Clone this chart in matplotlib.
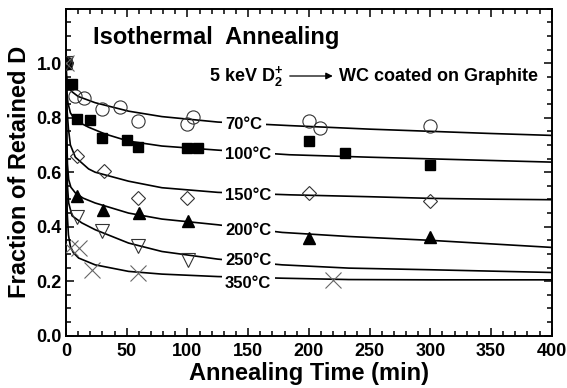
import matplotlib
matplotlib.use("Agg")
import matplotlib.pyplot as plt
import numpy as np
from matplotlib.ticker import MultipleLocator

plt.rcParams['font.family'] = ['Liberation Sans', 'DejaVu Sans']
plt.rcParams['font.weight'] = 'bold'
plt.rcParams['mathtext.fontset'] = 'custom'
plt.rcParams['mathtext.rm'] = 'Liberation Sans:bold'
plt.rcParams['mathtext.bf'] = 'Liberation Sans:bold'

# measured points (time in min, fraction retained)
t70 = [0, 7.7, 14.5, 29.6, 44.6, 59.7, 99.4, 104.9, 199.9, 209.2, 299.5]
f70 = [1.0, 0.880, 0.874, 0.831, 0.841, 0.788, 0.776, 0.804, 0.788, 0.763, 0.769]
t100 = [0, 4.9, 9.0, 20.0, 29.6, 50.1, 59.7, 99.4, 109.0, 199.9, 229.7, 299.5]
f100 = [1.0, 0.923, 0.794, 0.790, 0.726, 0.717, 0.693, 0.690, 0.690, 0.714, 0.669, 0.628]
t150 = [0, 9.0, 31.0, 59.7, 99.4, 199.9, 299.5]
f150 = [1.0, 0.659, 0.604, 0.506, 0.506, 0.524, 0.493]
t200 = [0, 9.0, 30.1, 60.2, 100.5, 199.9, 299.5]
f200 = [1.0, 0.512, 0.463, 0.450, 0.420, 0.358, 0.362]
t250 = [0, 8.8, 29.3, 59.4, 100.5]
f250 = [1.0, 0.436, 0.386, 0.328, 0.279]
t350 = [0, 3.6, 10.4, 21.4, 59.7, 220.1]
f350 = [1.0, 0.322, 0.322, 0.242, 0.230, 0.205]

# fitted curves
c70_t = [0, 0.5, 1, 2, 5, 10, 24, 51.5, 79, 125, 184, 250, 300, 350, 400]
c70_f = [1.0, 0.95, 0.935, 0.916, 0.895, 0.878, 0.855, 0.824, 0.804, 0.784, 0.771, 0.758, 0.750, 0.742, 0.735]
c100_t = [0, 0.5, 1, 1.6, 3.6, 7.7, 18.6, 32.3, 51.5, 79, 125, 184, 250, 300, 350, 400]
c100_f = [1.0, 0.92, 0.88, 0.855, 0.818, 0.79, 0.765, 0.74, 0.714, 0.696, 0.681, 0.664, 0.655, 0.649, 0.643, 0.637]
c150_t = [0, 0.5, 1, 2, 3.6, 7.7, 18.6, 24, 51.5, 79, 125, 184, 250, 300, 350, 400]
c150_f = [1.0, 0.88, 0.82, 0.76, 0.70, 0.655, 0.612, 0.600, 0.567, 0.543, 0.526, 0.517, 0.510, 0.504, 0.501, 0.499]
c200_t = [0, 0.3, 0.7, 1.2, 2.2, 4, 7.7, 14, 24, 51.5, 79, 125, 178, 233, 300, 350, 400]
c200_f = [1.0, 0.85, 0.72, 0.63, 0.573, 0.545, 0.524, 0.505, 0.487, 0.450, 0.428, 0.407, 0.379, 0.364, 0.350, 0.337, 0.324]
c250_t = [0, 0.3, 0.7, 1.2, 2.2, 5, 13, 24, 51.5, 79, 125, 178, 233, 300, 400]
c250_f = [1.0, 0.80, 0.65, 0.55, 0.487, 0.44, 0.414, 0.389, 0.340, 0.309, 0.281, 0.260, 0.248, 0.242, 0.232]
c350_t = [0, 0.2, 0.5, 1, 2, 3.6, 6, 10.4, 24, 51.5, 79, 125, 178, 233, 300, 400]
c350_f = [1.0, 0.80, 0.60, 0.45, 0.37, 0.328, 0.305, 0.285, 0.26, 0.236, 0.226, 0.217, 0.211, 0.206, 0.205, 0.205]

labels = ['70°C', '100°C', '150°C', '200°C', '250°C', '350°C']
label_y = [0.760, 0.647, 0.497, 0.371, 0.260, 0.174]

fig = plt.figure(figsize=(5.67, 3.88), dpi=100)
ax = fig.add_axes([0.1164, 0.1348, 0.8566, 0.8428])

for ct, cf in [(c70_t, c70_f), (c100_t, c100_f), (c150_t, c150_f),
               (c200_t, c200_f), (c250_t, c250_f), (c350_t, c350_f)]:
    ax.plot(ct, cf, color='black', lw=1.2, zorder=2)

ax.plot(t70, f70, 'o', ms=9.5, mfc='none', mec='#333333', mew=0.8, zorder=3)
ax.plot(t100, f100, 's', ms=7.5, mfc='black', mec='black', zorder=3)
ax.plot(t150, f150, 'D', ms=7.5, mfc='none', mec='#333333', mew=0.8, zorder=3)
ax.plot(t200, f200, '^', ms=9, mfc='black', mec='black', zorder=3)
ax.plot(t250, f250, 'v', ms=9.5, mfc='none', mec='#333333', mew=0.8, zorder=3)
ax.plot(t350, f350, 'x', ms=11, mec='#666666', mew=0.8, zorder=3)

for lab, ly in zip(labels, label_y):
    ax.text(131, ly, lab, fontsize=12, fontweight='bold', va='baseline', ha='left',
            zorder=4, bbox=dict(facecolor='white', edgecolor='none', pad=2.5))

ax.text(22, 1.07, 'Isothermal  Annealing', fontsize=17, fontweight='bold', va='baseline')
ax.text(118, 0.935, r'5 keV D$_{\mathbf{2}}^{\mathbf{+}}$', fontsize=13, fontweight='bold', va='baseline')
ax.annotate('', xy=(222, 0.953), xytext=(182, 0.953),
            arrowprops=dict(arrowstyle='-|>', color='black', lw=0.9, mutation_scale=10))
ax.text(225, 0.935, 'WC coated on Graphite', fontsize=13, fontweight='bold', va='baseline')

ax.set_xlim(0, 400)
ax.set_ylim(0, 1.2)
ax.set_xticks(np.arange(0, 401, 50))
ax.set_yticks([0.0, 0.2, 0.4, 0.6, 0.8, 1.0])
ax.set_yticklabels(['0.0', '0.2', '0.4', '0.6', '0.8', '1.0'])
ax.xaxis.set_minor_locator(MultipleLocator(10))
ax.yaxis.set_minor_locator(MultipleLocator(0.05))
ax.tick_params(which='both', direction='in', top=True, right=True, width=1.1)
ax.tick_params(which='major', length=6, labelsize=13)
ax.tick_params(which='minor', length=3.5)
ax.tick_params(axis='x', pad=5)
ax.tick_params(axis='y', pad=3)
for lbl in ax.get_xticklabels() + ax.get_yticklabels():
    lbl.set_fontweight('bold')
for s in ax.spines.values():
    s.set_linewidth(1.4)

ax.set_xlabel('Annealing Time (min)', fontsize=17, fontweight='bold', labelpad=2)
ax.set_ylabel('Fraction of Retained D', fontsize=17, fontweight='bold', labelpad=4)

fig.savefig('out.png', dpi=100)
